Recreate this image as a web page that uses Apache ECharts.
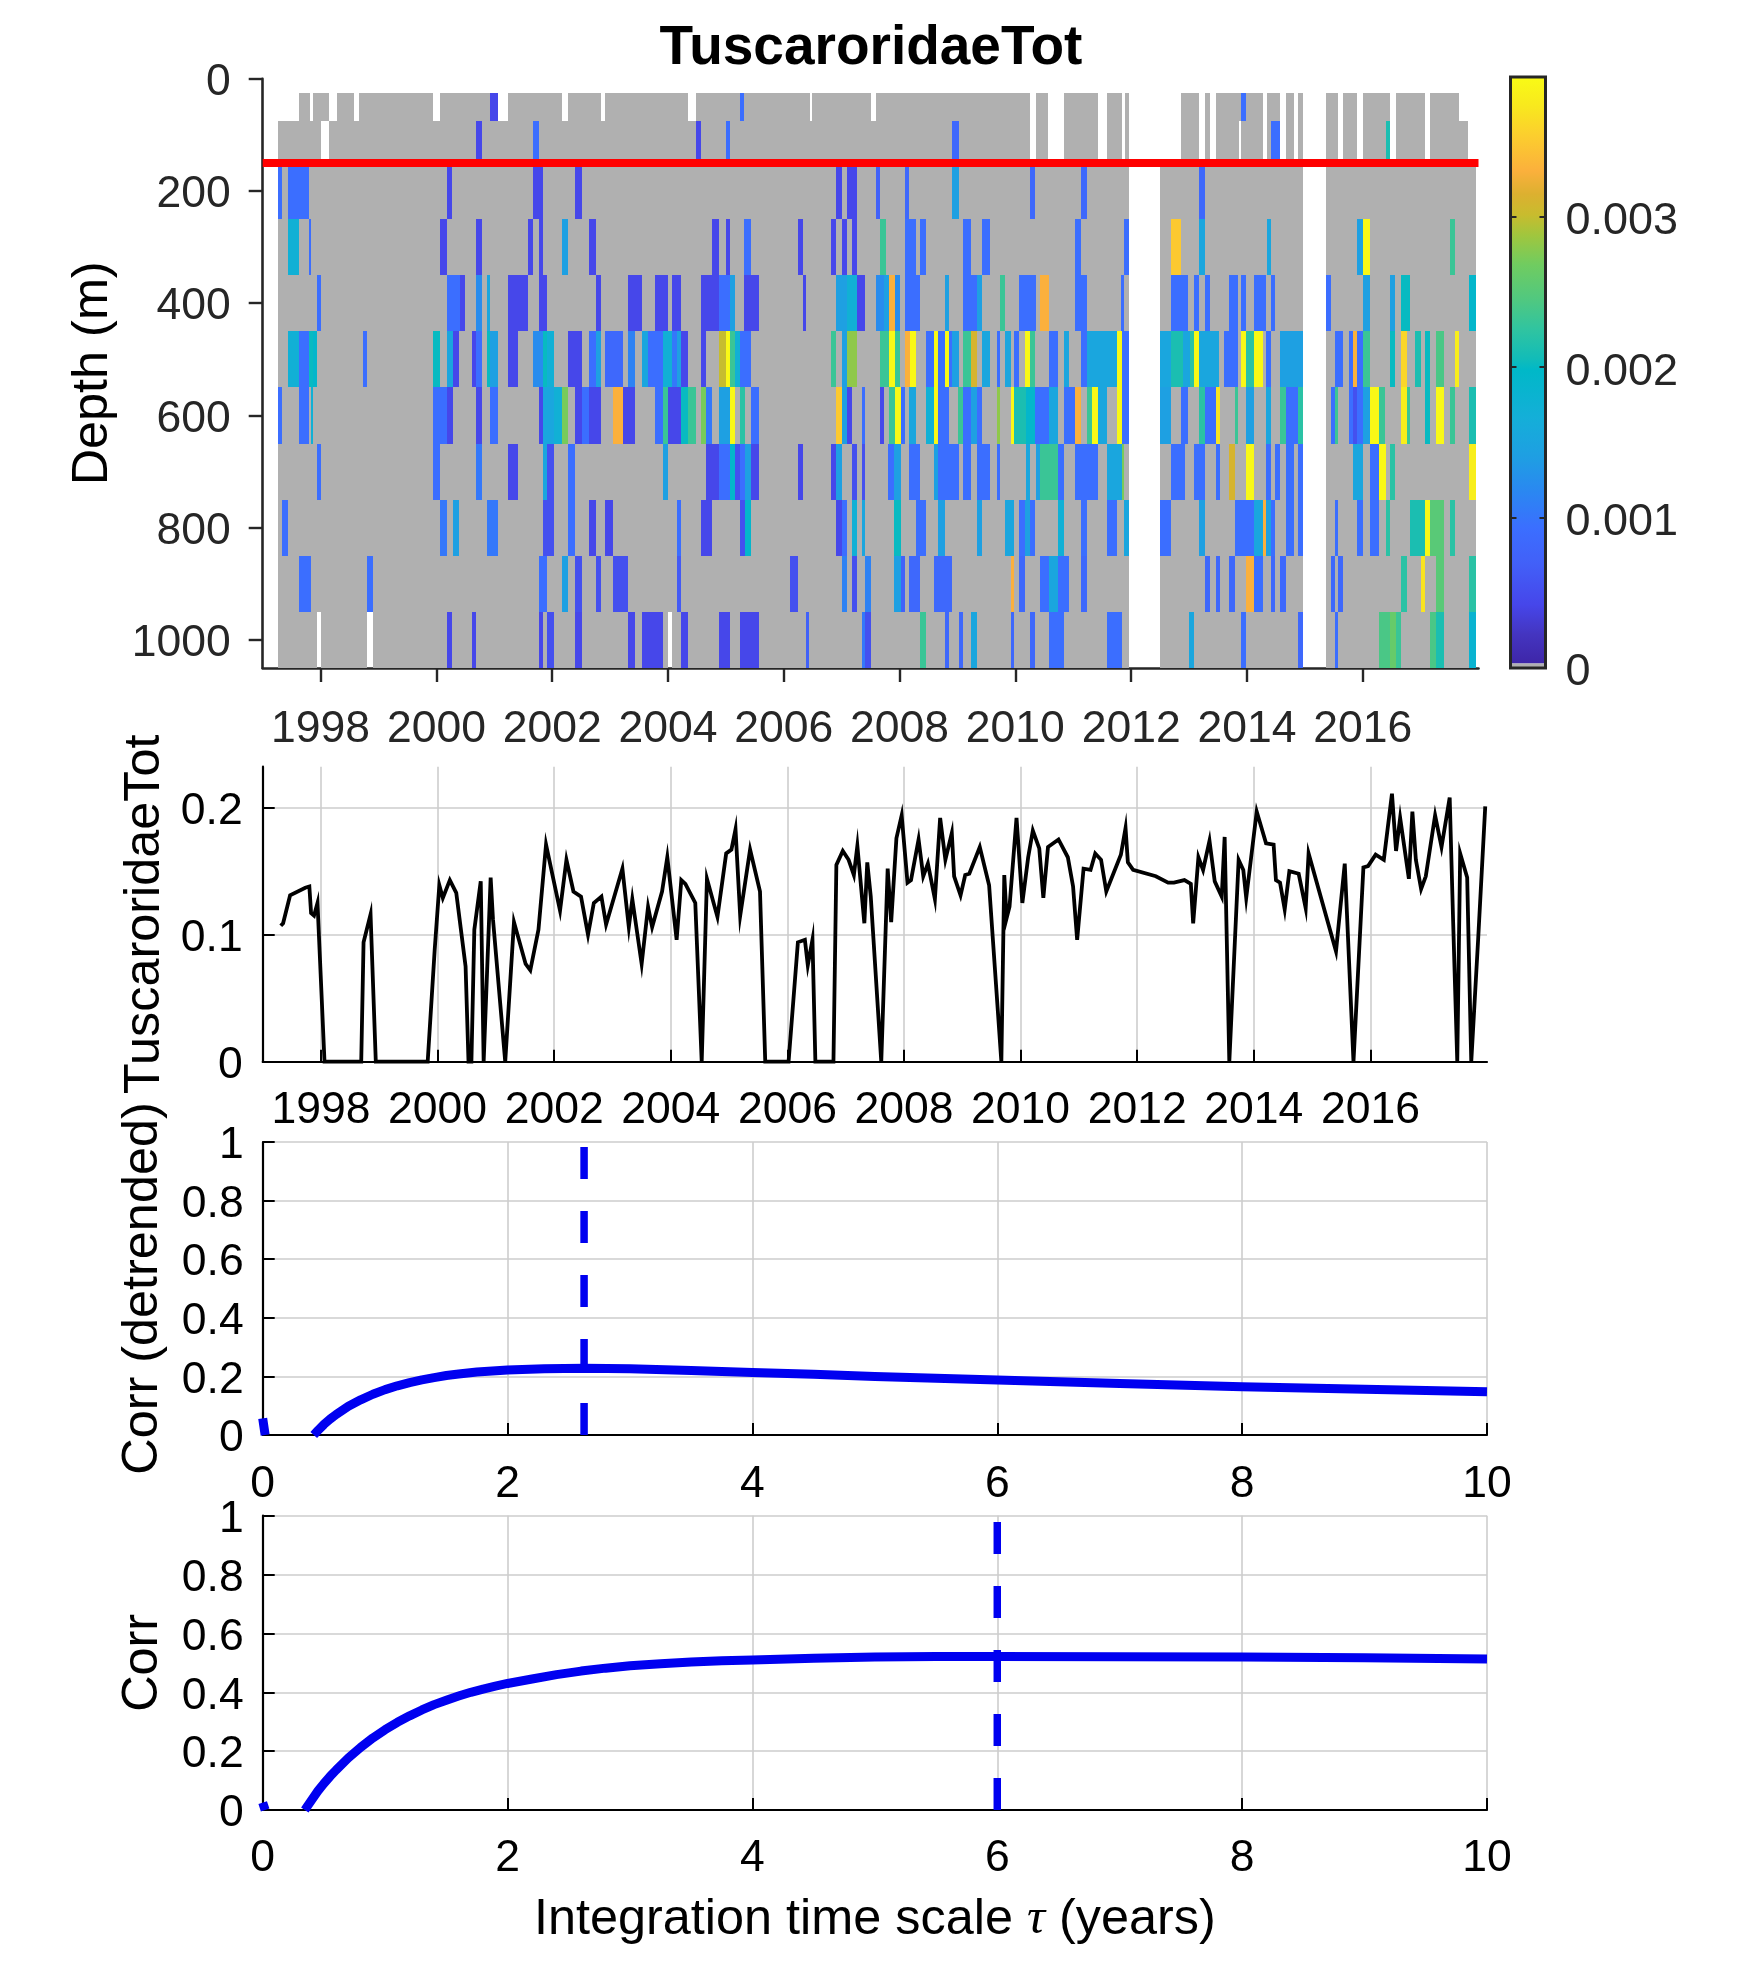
<!DOCTYPE html>
<html><head><meta charset="utf-8"><title>TuscaroridaeTot</title>
<style>html,body{margin:0;padding:0;background:#fff}#c{width:1750px;height:1969px}</style>
<script src="https://cdn.jsdelivr.net/npm/echarts@6/dist/echarts.min.js"></script></head>
<body><div id="c"></div>
<script>
const title = 'TuscaroridaeTot';
const yearTicks = [1998,2000,2002,2004,2006,2008,2010,2012,2014,2016];
const depthTicks = [0,200,400,600,800,1000];
const lineTicks = [0,0.1,0.2];
const barTicks = [0,0.001,0.002,0.003];
const colorMax = 0.00393;
const valueUnit = 1e-4;
const depthEdges = [25,75,150,250,350,450,550,650,750,850,950,1050];

const grayMain = [[1997.27,2011.96],[2012.5,2014.97],[2015.37,2017.96]];
const gray50 = [[1997.62,1997.82],[1997.87,1998.15],[1998.29,1998.58],[1998.66,1999.94],[2000.07,2001.06],[2001.24,2002.17],[2002.27,2002.85],[2002.92,2004.35],[2004.48,2006.45],[2006.49,2007.51],[2007.60,2010.25],[2010.35,2010.56],[2010.84,2011.42],[2011.59,2011.84],[2011.89,2011.96],[2012.86,2013.17],[2013.28,2013.37],[2013.46,2014.28],[2014.35,2014.57],[2014.68,2014.81],[2014.89,2014.97],[2015.37,2015.58],[2015.66,2015.90],[2016.0,2016.47],[2016.57,2017.07],[2017.16,2017.67]];
const gray100 = [[1997.27,1998.01],[1998.15,2010.25],[2010.35,2010.56],[2010.84,2011.42],[2011.59,2011.84],[2011.89,2011.96],[2012.86,2013.17],[2013.28,2013.37],[2013.46,2013.87],[2013.90,2014.28],[2014.35,2014.57],[2014.68,2014.81],[2014.89,2014.97],[2015.37,2015.58],[2015.66,2015.90],[2016.0,2016.47],[2016.57,2017.07],[2017.16,2017.82]];
const gray1000 = [[1997.27,1997.93],[1998.01,1998.81],[1998.91,2004.0],[2004.07,2011.96],[2012.5,2014.97],[2015.37,2017.96]];

const cells50 = [[2000.93,2001.06,4],[2005.25,2005.32,9],[2013.90,2013.98,9]];
const cells100 = [[2000.69,2000.78,4],[2001.67,2001.77,9],[2004.48,2004.57,4],[2005.0,2005.07,9],[2008.91,2009.02,8],[2014.42,2014.57,9],[2016.40,2016.47,21]];
const cells200 = [[1997.27,1997.33,9],[1997.43,1997.80,9],[2000.18,2000.27,4],[2001.67,2001.84,4],[2002.40,2002.51,4],[2006.90,2007.0,4],[2007.09,2007.26,4],[2007.60,2007.67,7],[2008.09,2008.17,8],[2008.91,2009.02,14],[2010.26,2010.34,8],[2011.14,2011.24,8],[2013.17,2013.28,8]];
const cells300 = [[1997.43,1997.62,17],[1997.80,1997.83,9],[2000.07,2000.18,4],[2000.69,2000.78,4],[2001.58,2001.67,4],[2001.77,2001.84,4],[2002.17,2002.27,14],[2002.64,2002.76,4],[2004.76,2004.88,4],[2005.0,2005.07,4],[2005.32,2005.43,9],[2006.25,2006.33,4],[2006.82,2006.90,4],[2007.0,2007.09,4],[2007.18,2007.26,4],[2007.67,2007.76,23],[2008.09,2008.29,9],[2008.36,2008.46,9],[2009.09,2009.23,9],[2009.43,2009.57,9],[2011.03,2011.14,9],[2011.88,2011.96,9],[2012.69,2012.86,35],[2013.17,2013.28,15],[2014.35,2014.42,15],[2015.90,2016.0,14],[2016.0,2016.13,39],[2017.51,2017.59,23]];
const cells400 = [[1997.93,1998.01,9],[2000.18,2000.40,9],[2000.40,2000.50,4],[2000.69,2000.78,12],[2000.87,2000.93,15],[2001.24,2001.58,4],[2001.77,2001.91,4],[2002.76,2002.85,4],[2003.31,2003.55,4],[2003.78,2004.0,4],[2004.07,2004.23,4],[2004.57,2004.88,4],[2004.88,2005.07,9],[2005.07,2005.16,14],[2005.32,2005.57,4],[2006.33,2006.38,4],[2006.90,2007.09,14],[2007.09,2007.26,17],[2007.26,2007.41,4],[2007.60,2007.74,12],[2007.74,2007.82,14],[2007.82,2007.92,33],[2007.92,2008.0,12],[2008.09,2008.36,9],[2008.78,2008.85,14],[2009.09,2009.34,9],[2009.34,2009.43,14],[2009.74,2009.83,23],[2010.07,2010.35,9],[2010.42,2010.58,33],[2011.03,2011.24,9],[2011.83,2011.88,9],[2012.69,2012.99,9],[2013.09,2013.17,9],[2013.28,2013.37,9],[2013.69,2013.85,9],[2013.90,2013.98,9],[2014.12,2014.33,9],[2014.42,2014.48,9],[2015.37,2015.45,9],[2016.0,2016.13,14],[2016.47,2016.56,14],[2016.67,2016.82,20],[2017.83,2017.96,19]];
const cells500 = [[1997.43,1997.62,17],[1997.62,1997.80,9],[1997.80,1997.87,20],[1997.87,1997.93,19],[1998.73,1998.81,9],[1999.95,2000.07,20],[2000.18,2000.28,15],[2000.28,2000.39,4],[2000.61,2000.69,4],[2000.69,2000.78,9],[2000.87,2000.93,20],[2000.93,2001.06,14],[2001.24,2001.41,4],[2001.67,2001.85,12],[2001.85,2001.91,20],[2001.91,2002.03,17],[2002.27,2002.52,4],[2002.64,2002.76,9],[2002.76,2002.85,14],[2002.92,2003.22,8],[2003.31,2003.43,11],[2003.55,2003.66,15],[2003.66,2003.91,9],[2003.91,2004.07,17],[2004.07,2004.15,10],[2004.15,2004.23,14],[2004.23,2004.34,4],[2004.57,2004.65,4],[2004.88,2005.0,30],[2005.0,2005.07,39],[2005.07,2005.16,23],[2005.16,2005.24,17],[2005.24,2005.43,9],[2006.82,2006.90,23],[2007.0,2007.09,14],[2007.09,2007.26,28],[2007.67,2007.82,23],[2007.82,2007.92,39],[2007.92,2008.0,23],[2008.09,2008.18,33],[2008.18,2008.29,39],[2008.46,2008.59,9],[2008.59,2008.67,39],[2008.67,2008.78,9],[2008.78,2008.85,39],[2008.85,2008.91,9],[2008.91,2009.02,14],[2009.09,2009.23,23],[2009.23,2009.34,31],[2009.43,2009.57,15],[2009.69,2009.74,9],[2009.83,2009.92,15],[2009.98,2010.07,9],[2010.17,2010.25,39],[2010.25,2010.34,23],[2010.58,2010.73,9],[2010.84,2010.93,15],[2011.14,2011.24,9],[2011.24,2011.76,15],[2011.76,2011.84,39],[2011.84,2011.96,9],[2012.5,2012.69,15],[2012.69,2012.90,21],[2012.90,2013.01,15],[2013.01,2013.09,22],[2013.09,2013.17,39],[2013.17,2013.52,15],[2013.60,2013.85,9],[2013.90,2013.99,39],[2013.99,2014.12,22],[2014.12,2014.28,39],[2014.33,2014.42,9],[2014.57,2014.97,14],[2015.53,2015.66,9],[2015.76,2015.84,9],[2015.84,2015.90,33],[2015.90,2016.0,9],[2016.0,2016.13,23],[2016.47,2016.56,20],[2016.67,2016.76,36],[2016.90,2017.0,21],[2017.07,2017.16,20],[2017.27,2017.41,24],[2017.59,2017.67,38]];
const cells600 = [[1997.27,1997.33,9],[1997.62,1997.80,9],[1997.83,1997.87,17],[1999.95,2000.18,9],[2000.18,2000.28,4],[2000.69,2000.78,4],[2000.93,2001.06,9],[2001.78,2001.85,4],[2001.85,2002.03,15],[2002.03,2002.17,17],[2002.17,2002.27,27],[2002.39,2002.52,4],[2002.52,2002.64,9],[2002.64,2002.85,4],[2003.05,2003.22,33],[2003.22,2003.43,4],[2003.78,2003.91,9],[2003.91,2004.0,23],[2004.0,2004.23,4],[2004.23,2004.34,20],[2004.34,2004.48,23],[2004.57,2004.65,27],[2004.65,2004.76,10],[2004.88,2005.07,14],[2005.07,2005.16,39],[2005.24,2005.33,22],[2005.43,2005.57,9],[2006.90,2007.0,35],[2007.0,2007.09,14],[2007.09,2007.18,4],[2007.35,2007.41,9],[2007.67,2007.74,4],[2007.82,2007.93,23],[2007.93,2008.02,39],[2008.02,2008.09,9],[2008.17,2008.29,15],[2008.46,2008.59,17],[2008.59,2008.67,39],[2008.67,2008.85,9],[2009.01,2009.09,23],[2009.09,2009.23,9],[2009.23,2009.34,14],[2009.34,2009.43,9],[2009.68,2009.74,28],[2009.92,2009.98,39],[2009.98,2010.18,21],[2010.18,2010.34,19],[2010.34,2010.58,9],[2010.58,2010.73,15],[2010.84,2011.03,9],[2011.03,2011.14,33],[2011.24,2011.32,23],[2011.32,2011.42,39],[2011.42,2011.59,15],[2011.76,2011.84,39],[2011.84,2011.96,9],[2012.5,2012.69,14],[2012.86,2012.99,9],[2013.17,2013.28,22],[2013.28,2013.46,9],[2013.46,2013.54,37],[2013.79,2013.85,23],[2013.98,2014.12,14],[2014.33,2014.42,15],[2014.57,2014.68,23],[2014.68,2014.89,9],[2014.89,2014.97,22],[2015.45,2015.53,9],[2015.53,2015.58,23],[2015.76,2015.84,9],[2015.84,2015.90,5],[2015.90,2016.0,9],[2016.0,2016.13,14],[2016.13,2016.29,39],[2016.29,2016.38,23],[2016.67,2016.76,38],[2016.76,2016.82,23],[2017.07,2017.16,20],[2017.27,2017.41,39],[2017.51,2017.59,23],[2017.83,2017.96,21]];
const cells700 = [[1997.93,1998.01,9],[1999.95,2000.07,9],[2000.69,2000.78,10],[2001.24,2001.41,4],[2001.85,2001.91,15],[2001.91,2002.03,5],[2002.27,2002.39,9],[2003.91,2004.0,14],[2004.65,2004.88,4],[2004.88,2005.07,9],[2005.07,2005.16,19],[2005.16,2005.24,5],[2005.24,2005.33,9],[2005.33,2005.43,14],[2005.43,2005.57,4],[2006.25,2006.33,4],[2006.82,2006.90,4],[2006.90,2007.0,14],[2007.18,2007.26,5],[2007.35,2007.41,5],[2007.80,2007.91,9],[2007.91,2008.02,14],[2008.17,2008.36,9],[2008.59,2008.67,14],[2008.67,2009.02,9],[2009.09,2009.23,9],[2009.34,2009.57,9],[2009.69,2009.74,9],[2010.18,2010.25,15],[2010.35,2010.43,14],[2010.43,2010.73,23],[2010.73,2010.84,9],[2011.03,2011.42,9],[2011.59,2011.84,15],[2011.84,2011.88,27],[2012.69,2012.93,9],[2013.09,2013.28,9],[2013.46,2013.54,9],[2013.69,2013.79,31],[2013.98,2014.12,39],[2014.33,2014.42,9],[2014.48,2014.57,9],[2014.68,2014.81,9],[2014.89,2014.97,9],[2015.84,2016.0,15],[2016.13,2016.29,9],[2016.29,2016.40,39],[2016.47,2016.56,22],[2017.83,2017.96,38]];
const cells800 = [[1997.33,1997.43,9],[2000.07,2000.18,10],[2000.28,2000.39,14],[2000.87,2001.06,10],[2001.85,2002.03,5],[2002.27,2002.39,9],[2002.64,2002.76,4],[2002.92,2003.05,4],[2004.15,2004.23,9],[2004.57,2004.76,4],[2005.24,2005.33,5],[2005.33,2005.43,19],[2006.90,2007.0,4],[2007.0,2007.09,9],[2007.18,2007.26,17],[2007.35,2007.41,15],[2007.91,2008.02,20],[2008.29,2008.46,9],[2008.67,2008.78,14],[2009.34,2009.43,14],[2009.83,2009.98,15],[2010.07,2010.17,9],[2010.17,2010.25,14],[2010.25,2010.34,9],[2010.73,2010.84,17],[2011.14,2011.24,9],[2011.59,2011.76,9],[2011.88,2011.96,15],[2012.5,2012.69,9],[2013.17,2013.28,14],[2013.79,2014.12,9],[2014.12,2014.28,15],[2014.28,2014.33,33],[2014.33,2014.42,14],[2014.42,2014.48,9],[2014.68,2014.81,9],[2014.89,2014.97,9],[2015.53,2015.58,9],[2015.90,2016.0,9],[2016.13,2016.29,9],[2016.40,2016.47,22],[2016.82,2017.07,21],[2017.07,2017.16,39],[2017.16,2017.41,25],[2017.51,2017.59,22]];
const cells900 = [[1997.62,1997.83,9],[1998.81,1998.91,9],[2001.78,2001.91,9],[2002.17,2002.27,14],[2002.39,2002.52,5],[2002.76,2002.85,5],[2003.05,2003.31,5],[2004.15,2004.23,6],[2006.11,2006.25,5],[2007.0,2007.09,11],[2007.18,2007.26,5],[2007.41,2007.51,11],[2007.91,2008.02,14],[2008.02,2008.09,7],[2008.17,2008.36,8],[2008.59,2008.91,8],[2009.92,2009.98,33],[2010.07,2010.17,8],[2010.43,2010.58,9],[2010.58,2010.73,15],[2010.73,2010.93,9],[2011.14,2011.24,8],[2013.28,2013.37,8],[2013.46,2013.54,8],[2013.69,2013.79,8],[2013.98,2014.12,33],[2014.12,2014.28,9],[2014.42,2014.48,8],[2014.57,2014.68,8],[2015.45,2015.53,8],[2015.58,2015.66,8],[2016.67,2016.76,22],[2017.0,2017.07,37],[2017.27,2017.41,25],[2017.83,2017.96,22]];
const cells1000 = [[2000.18,2000.27,4],[2000.61,2000.69,4],[2001.78,2001.85,4],[2001.91,2002.03,5],[2002.40,2002.51,4],[2003.31,2003.43,4],[2003.55,2003.91,4],[2004.23,2004.34,4],[2004.88,2005.07,4],[2005.24,2005.57,4],[2006.38,2006.44,7],[2007.35,2007.41,10],[2007.41,2007.51,5],[2008.36,2008.46,23],[2008.78,2008.85,8],[2009.02,2009.09,8],[2009.23,2009.34,15],[2009.92,2009.98,8],[2010.26,2010.34,8],[2010.58,2010.84,9],[2011.59,2011.84,9],[2013.0,2013.09,15],[2013.90,2013.98,9],[2014.89,2014.97,8],[2015.53,2015.58,9],[2016.29,2016.47,24],[2016.47,2016.57,26],[2016.57,2016.67,23],[2017.16,2017.27,24],[2017.27,2017.41,21],[2017.83,2017.96,18]];

const seriesDates = [1997.31,1997.35,1997.47,1997.73,1997.80,1997.83,1997.88,1997.94,1998.06,1998.69,1998.73,1998.85,1998.94,1999.83,1999.95,2000.03,2000.09,2000.21,2000.32,2000.48,2000.53,2000.58,2000.63,2000.74,2000.79,2000.91,2000.95,2001.16,2001.31,2001.51,2001.59,2001.73,2001.86,2002.10,2002.21,2002.33,2002.46,2002.58,2002.68,2002.81,2002.89,2003.17,2003.28,2003.34,2003.50,2003.61,2003.68,2003.85,2003.94,2004.10,2004.18,2004.25,2004.42,2004.53,2004.62,2004.80,2004.95,2005.04,2005.11,2005.19,2005.36,2005.53,2005.62,2006.02,2006.18,2006.30,2006.35,2006.43,2006.48,2006.79,2006.84,2006.95,2007.05,2007.14,2007.20,2007.32,2007.37,2007.43,2007.61,2007.72,2007.78,2007.87,2007.96,2008.06,2008.12,2008.25,2008.33,2008.41,2008.53,2008.62,2008.71,2008.82,2008.86,2008.97,2009.05,2009.12,2009.30,2009.46,2009.67,2009.72,2009.76,2009.81,2009.93,2010.03,2010.13,2010.21,2010.32,2010.39,2010.47,2010.65,2010.81,2010.90,2010.97,2011.08,2011.20,2011.28,2011.38,2011.47,2011.72,2011.80,2011.84,2011.93,2012.32,2012.53,2012.63,2012.81,2012.92,2012.96,2013.05,2013.13,2013.24,2013.33,2013.45,2013.50,2013.58,2013.74,2013.82,2013.87,2014.05,2014.21,2014.34,2014.38,2014.45,2014.53,2014.61,2014.77,2014.89,2014.94,2015.41,2015.56,2015.71,2015.88,2015.96,2016.09,2016.23,2016.37,2016.44,2016.51,2016.66,2016.72,2016.78,2016.87,2016.95,2017.11,2017.22,2017.36,2017.42,2017.49,2017.54,2017.66,2017.73,2017.85,2017.97];
const seriesValues = [.107,.109,.131,.137,.138,.117,.115,.125,0,0,.094,.116,0,0,.088,.139,.129,.143,.133,.075,0,0,.104,.142,0,.145,.112,0,.110,.077,.072,.104,.171,.119,.159,.134,.130,.100,.125,.130,.108,.152,.106,.128,.077,.122,.106,.134,.161,.096,.143,.140,.125,0,.144,.114,.164,.167,.183,.115,.167,.134,0,0,.094,.096,.076,.096,0,0,.155,.166,.159,.147,.170,.109,.157,.130,0,.152,.110,.176,.194,.141,.143,.175,.146,.156,.128,.192,.159,.180,.146,.131,.147,.148,.169,.139,0,.147,.113,.122,.192,.125,.161,.182,.168,.129,.169,.175,.161,.138,.096,.152,.151,.164,.159,.134,.163,.184,.157,.151,.146,.141,.141,.143,.140,.109,.161,.151,.174,.142,.130,.177,0,.159,.151,.129,.197,.172,.171,.143,.141,.120,.150,.148,.121,.164,.087,.156,0,.153,.154,.163,.159,.211,.166,.192,.144,.197,.159,.136,.146,.194,.169,.208,.109,0,.164,.145,0,.098,.201];

const tauDetrended = [0,0.02,null,0.417,0.45,0.5,0.55,0.6,0.7,0.8,0.9,1.0,1.1,1.2,1.3,1.4,1.5,1.6,1.75,2,2.3,2.625,3,3.5,4,4.5,5,6,7,8,9,10];
const corrDetrended = [0.057,0,null,0,0.015,0.036,0.054,0.07,0.098,0.12,0.139,0.155,0.168,0.179,0.188,0.196,0.203,0.208,0.215,0.222,0.226,0.228,0.226,0.22,0.213,0.207,0.2,0.188,0.176,0.165,0.156,0.148];
const tauCorr = [0,0.02,null,0.344,0.4,0.45,0.5,0.55,0.6,0.7,0.8,0.9,1.0,1.1,1.2,1.3,1.4,1.5,1.6,1.7,1.8,1.9,2.0,2.2,2.4,2.6,2.8,3.0,3.25,3.5,3.75,4,4.5,5,5.5,6,7,8,9,10];
const corrValues = [0.025,0,null,0,0.034,0.064,0.09,0.114,0.136,0.177,0.213,0.245,0.273,0.298,0.32,0.34,0.358,0.373,0.387,0.40,0.411,0.421,0.43,0.445,0.46,0.472,0.482,0.49,0.497,0.503,0.507,0.51,0.516,0.52,0.522,0.522,0.521,0.52,0.517,0.513];
const bestTauDetrended = 2.625;
const bestTauCorr = 6;
const referenceDepth = 150;

const colorStops = [[0,'#3e26a8'],[.05,'#4435c0'],[.1,'#4646ea'],[.17,'#4260f8'],[.23,'#3b6eff'],[.29,'#2b86f2'],[.35,'#1f9ee3'],[.42,'#14afd8'],[.5,'#00b8c8'],[.52,'#12bcb8'],[.57,'#30c4a0'],[.62,'#50c880'],[.68,'#70cc60'],[.73,'#a0c63e'],[.765,'#c8bc2e'],[.8,'#dcb030'],[.84,'#fbb03c'],[.9,'#fcce2e'],[.95,'#f8e81e'],[1,'#f9fb15']];
const grayColor = '#b0b0b0';
function hexRgb(h){return [1,3,5].map(i=>parseInt(h.substr(i,2),16));}
function colorOf(v){
  const f=Math.max(0,Math.min(1,v/colorMax));
  for(let i=1;i<colorStops.length;i++){
    if(f<=colorStops[i][0]){
      const a=colorStops[i-1],b=colorStops[i],t=(f-a[0])/(b[0]-a[0]);
      const A=hexRgb(a[1]),B=hexRgb(b[1]);
      return 'rgb('+A.map((x,k)=>Math.round(x+(B[k]-x)*t)).join(',')+')';
    }
  }
  return colorStops[colorStops.length-1][1];
}

const grayRows = [gray50,gray100,grayMain,grayMain,grayMain,grayMain,grayMain,grayMain,grayMain,grayMain,gray1000];
const cellRows = [cells50,cells100,cells200,cells300,cells400,cells500,cells600,cells700,cells800,cells900,cells1000];
const heatData = [];
grayRows.forEach((r,i)=>r.forEach(s=>heatData.push([s[0],s[1],depthEdges[i],depthEdges[i+1],-1])));
cellRows.forEach((r,i)=>r.forEach(s=>heatData.push([s[0],s[1],depthEdges[i],depthEdges[i+1],s[2]*valueUnit])));

function renderCell(params,api){
  const a=api.coord([api.value(0),api.value(2)]),b=api.coord([api.value(1),api.value(3)]);
  const x0=Math.round(a[0]),x1=Math.round(b[0]),y0=Math.round(a[1]),y1=Math.round(b[1]);
  const v=api.value(4);
  return {type:'rect',shape:{x:x0,y:y0,width:x1-x0,height:y1-y0},style:{fill:v<0?grayColor:colorOf(v)}};
}
function renderBar(params,api){
  const a=api.coord([0,colorMax]),b=api.coord([1,0]),g=api.coord([1,0.00003]);
  const stops=colorStops.map(s=>({offset:s[0],color:s[1]}));
  return {type:'group',children:[
    {type:'rect',shape:{x:a[0],y:a[1],width:b[0]-a[0],height:g[1]-a[1]},style:{fill:new echarts.graphic.LinearGradient(0,1,0,0,stops)}},
    {type:'rect',shape:{x:a[0],y:g[1],width:b[0]-a[0],height:b[1]-g[1]},style:{fill:grayColor}},
    {type:'rect',shape:{x:a[0],y:a[1],width:b[0]-a[0],height:b[1]-a[1]},style:{fill:'none',stroke:'#262626',lineWidth:3}}
  ]};
}

const FF='"Liberation Sans", Helvetica, Arial, sans-serif';
const DARK='#262626', BLK='#000', GRID='#cdcdcd', BLUE='#0000f0';
const L=262.7, R=1487, W=R-L, FS=44.5;
const labelStyle=(c,m)=>({color:c,fontFamily:FF,fontSize:FS,margin:m});
// y tick labels: a small rich block pushes the glyphs down to the reference's baseline
const yLabelStyle=(c,m,fmt,pad,size)=>({margin:m,formatter:v=>'{v|'+fmt(v)+'}',
  rich:{v:{color:c,fontFamily:FF,fontSize:size||FS,padding:[pad||8,0,0,0]}}});
const nameStyle={color:BLK,fontFamily:FF,fontSize:50.4};
const split={show:true,lineStyle:{color:GRID,width:1.6}};
const yearFmt=v=>String(v);

const lineAxisY=(grid,name,gap)=>({type:'value',gridIndex:grid,min:0,max:1,interval:0.2,
  name,nameLocation:'middle',nameGap:gap,nameTextStyle:nameStyle,
  axisLine:{show:true,lineStyle:{color:BLK,width:2.2}},
  axisTick:{show:true,inside:true,length:12,lineStyle:{color:BLK,width:2}},
  axisLabel:yLabelStyle(BLK,19,v=>String(Number(v.toFixed(1)))),splitLine:split});
const tauAxisX=(grid,m,extra)=>Object.assign({type:'value',gridIndex:grid,min:0,max:10,interval:2,position:'bottom',
  axisLine:{show:true,onZero:false,lineStyle:{color:BLK,width:2.2}},
  axisTick:{show:true,inside:true,length:12,lineStyle:{color:BLK,width:2}},
  axisLabel:labelStyle(BLK,m),splitLine:split},extra||{});

const option={
  animation:false,backgroundColor:'#fff',
  title:{text:title,left:866,top:16,textAlign:'center',textStyle:{fontFamily:FF,fontSize:55,fontWeight:'bold',color:BLK}},
  grid:[
    {left:L,top:78.7,width:1215.8,height:589.3},
    {left:1510.5,top:77,width:35,height:591},
    {left:L,top:766.7,width:W,height:295},
    {left:L,top:1142,width:W,height:293},
    {left:L,top:1515.7,width:W,height:294.3}
  ],
  xAxis:[
    {type:'value',gridIndex:0,min:1997,max:2018,position:'bottom',
     axisLine:{show:true,onZero:false,lineStyle:{color:DARK,width:2.6}},
     axisTick:{show:true,length:14,lineStyle:{color:DARK,width:2.4},customValues:yearTicks},
     axisLabel:Object.assign(labelStyle(DARK,39),{formatter:yearFmt,customValues:yearTicks}),splitLine:{show:false}},
    {type:'value',gridIndex:1,min:0,max:1,show:false},
    {type:'value',gridIndex:2,min:1997,max:2018,position:'bottom',
     axisLine:{show:true,onZero:false,lineStyle:{color:BLK,width:2.2}},
     axisTick:{show:true,inside:true,length:12,lineStyle:{color:BLK,width:2},customValues:yearTicks},
     axisLabel:Object.assign(labelStyle(BLK,27),{formatter:yearFmt,customValues:yearTicks}),splitLine:split},
    tauAxisX(3,27),
    tauAxisX(4,26.5,{name:'Integration time scale {t|τ} (years)',nameLocation:'middle',nameGap:85,
      nameTextStyle:Object.assign({},nameStyle,{rich:{t:{fontFamily:'"Liberation Serif", serif',fontStyle:'italic',fontSize:50.4,color:BLK}}})})
  ],
  yAxis:[
    {type:'value',gridIndex:0,min:0,max:1050,inverse:true,
     name:'Depth (m)',nameLocation:'middle',nameGap:145,nameTextStyle:nameStyle,
     axisLine:{show:true,onZero:false,lineStyle:{color:DARK,width:2.6}},
     axisTick:{show:true,length:14,lineStyle:{color:DARK,width:2.4},customValues:depthTicks},
     axisLabel:Object.assign(yLabelStyle(DARK,32,yearFmt),{customValues:depthTicks}),splitLine:{show:false}},
    {type:'value',gridIndex:1,min:0,max:colorMax,position:'left',z:5,
     axisLine:{show:false},axisLabel:{show:false},splitLine:{show:false},
     axisTick:{show:true,inside:true,length:6,lineStyle:{color:DARK,width:2},customValues:barTicks.slice(1)}},
    {type:'value',gridIndex:1,min:0,max:colorMax,position:'right',z:5,
     axisLine:{show:false},splitLine:{show:false},
     axisTick:{show:true,inside:true,length:6,lineStyle:{color:DARK,width:2},customValues:barTicks.slice(1)},
     axisLabel:Object.assign(yLabelStyle(DARK,20,v=>v===0?'0':v.toFixed(3),10,45),{customValues:barTicks})},
    {type:'value',gridIndex:2,min:0,max:0.2323,
     name:'TuscaroridaeTot',nameLocation:'middle',nameGap:90,nameTextStyle:nameStyle,
     axisLine:{show:true,lineStyle:{color:BLK,width:2.2}},
     axisTick:{show:true,inside:true,length:12,lineStyle:{color:BLK,width:2},customValues:lineTicks},
     axisLabel:Object.assign(yLabelStyle(BLK,20,v=>String(v)),{customValues:lineTicks}),splitLine:split},
    lineAxisY(3,'Corr (detrended)',95),
    lineAxisY(4,'Corr',95)
  ],
  series:[
    {type:'custom',xAxisIndex:0,yAxisIndex:0,renderItem:renderCell,data:heatData,silent:true,
     dimensions:['x0','x1','y0','y1','v'],encode:{x:[0,1],y:[2,3]},clip:false},
    {type:'line',xAxisIndex:0,yAxisIndex:0,data:[[1997,referenceDepth],[2018,referenceDepth]],symbol:'none',z:6,
     lineStyle:{color:'#ff0000',width:8,cap:'butt'},silent:true},
    {type:'custom',xAxisIndex:1,yAxisIndex:1,renderItem:renderBar,data:[[0,1,0,colorMax]],silent:true,
     dimensions:['a','b','c','d'],encode:{x:[0,1],y:[2,3]},clip:false},
    {type:'line',xAxisIndex:2,yAxisIndex:3,data:seriesDates.map((d,i)=>[d,seriesValues[i]]),symbol:'none',clip:false,
     lineStyle:{color:BLK,width:3.8,join:'miter',cap:'butt'},silent:true},
    {type:'line',xAxisIndex:3,yAxisIndex:4,data:[[bestTauDetrended,0],[bestTauDetrended,1]],symbol:'none',clip:false,
     lineStyle:{color:BLUE,width:7.5,type:[32,32],cap:'butt'},silent:true,z:3},
    {type:'line',xAxisIndex:3,yAxisIndex:4,data:tauDetrended.map((t,i)=>[t,corrDetrended[i]]),symbol:'none',smooth:false,connectNulls:false,
     lineStyle:{color:BLUE,width:9,cap:'butt',join:'round'},silent:true,z:4},
    {type:'line',xAxisIndex:4,yAxisIndex:5,data:[[bestTauCorr,0],[bestTauCorr,1]],symbol:'none',clip:false,
     lineStyle:{color:BLUE,width:7.5,type:[32,32],cap:'butt'},silent:true,z:3},
    {type:'line',xAxisIndex:4,yAxisIndex:5,data:tauCorr.map((t,i)=>[t,corrValues[i]]),symbol:'none',smooth:false,connectNulls:false,
     lineStyle:{color:BLUE,width:9,cap:'butt',join:'round'},silent:true,z:4}
  ]
};
const chart=echarts.init(document.getElementById('c'),null,{renderer:'canvas',width:1750,height:1969});
chart.setOption(option);
</script></body></html>
